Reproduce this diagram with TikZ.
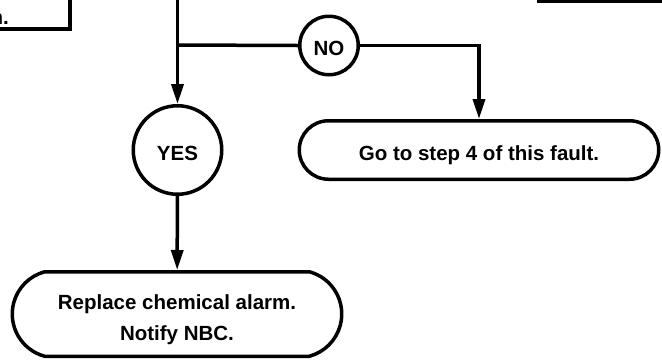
\documentclass[tikz,border=0pt]{standalone}
\usepackage{fontspec}
\setmainfont{Liberation Sans}
\usetikzlibrary{arrows.meta,shapes.misc}
\begin{document}
\begin{tikzpicture}[x=1pt,y=-1pt,
  lw/.style={line width=3.5pt},
  txt/.style={font=\fontsize{20.5}{31}\selectfont\bfseries},
  low/.style={text height=20.7pt,text depth=0pt},
  decision/.style={circle,draw,lw,inner sep=0pt,txt,low},
  terminal/.style={rounded rectangle,draw,lw,inner sep=0pt,txt},
  flow/.style={lw,-{Triangle[length=20pt,width=12pt]}},
  plain/.style={lw}]
\useasboundingbox (0,0) rectangle (662,360);
% partial elements at the top
\coordinate (tlA) at (-5,29);
\coordinate (tlB) at (70,29);
\coordinate (tlC) at (70,-5);
\draw[plain,line join=miter] (tlA) -- (tlB) -- (tlC);
\node[txt,anchor=base east,inner sep=0pt] (tltext) at (9,24) {n.};
\coordinate (trA) at (537,1);
\coordinate (trB) at (667,1);
\draw[plain] (trA) -- (trB);
% main nodes
\node[decision,minimum size=88.5pt] (yes) at (177.5,150) {YES};
\node[decision,minimum size=58.5pt] (no) at (329,45.5) {NO};
\node[terminal,low,minimum width=359.5pt,minimum height=58.5pt] (go) at (479,150) {Go to step 4 of this fault.};
\node[terminal,text height=20pt,text depth=29.2pt,rounded rectangle arc length=150,minimum width=329.5pt,minimum height=84.5pt] (rep) at (177,314)
  {\begin{tabular}[t]{@{}c@{}}Replace chemical alarm.\\Notify NBC.\end{tabular}};
% connectors
\coordinate (top) at (177.5,-5);
\coordinate (j) at (177.5,45);
\draw[flow] (top) -- (yes);
\draw[plain] (j) -- (no.west);
\draw[flow,line join=miter] (no.east) -| (go.north);
\draw[flow] (yes) -- (rep);
\end{tikzpicture}
\end{document}
